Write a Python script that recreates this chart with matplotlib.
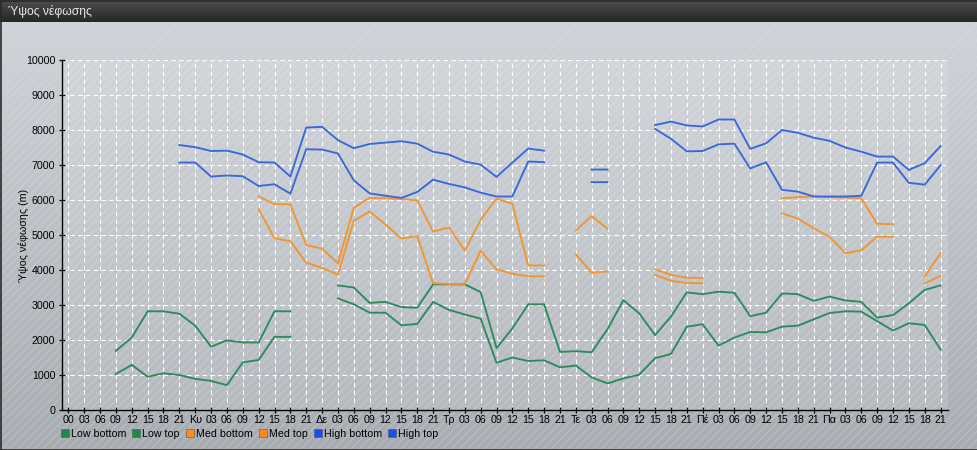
import matplotlib
matplotlib.use("Agg")
import matplotlib.pyplot as plt
import numpy as np
from matplotlib.colors import LinearSegmentedColormap
from matplotlib.lines import Line2D
from matplotlib.patches import Rectangle

plt.rcParams['font.family'] = ['Liberation Sans', 'DejaVu Sans']
plt.rcParams['hatch.linewidth'] = 1.1

nan = np.nan

# x categories: 7 days x 8 three-hour steps
tick_labels = ['00', '03', '06', '09', '12', '15', '18', '21',
               'Κυ', '03', '06', '09', '12', '15', '18', '21',
               'Δε', '03', '06', '09', '12', '15', '18', '21',
               'Τρ', '03', '06', '09', '12', '15', '18', '21',
               'Τε', '03', '06', '09', '12', '15', '18', '21',
               'Πέ', '03', '06', '09', '12', '15', '18', '21',
               'Πα', '03', '06', '09', '12', '15', '18', '21']

low_bottom = [nan, nan, nan, 1030, 1290, 950, 1050, 1000, 890, 830, 710, 1360, 1430, 2090, 2090,
              nan, nan, 3190, 3020, 2780, 2780, 2420, 2460, 3090, 2860, 2730, 2610, 1350, 1500,
              1400, 1420, 1220, 1270, 930, 760, 900, 1010, 1480, 1600, 2380, 2450, 1840, 2070,
              2230, 2220, 2380, 2410, 2590, 2770, 2820, 2810, 2540, 2270, 2480, 2430, 1730]
low_top = [nan, nan, nan, 1690, 2070, 2820, 2820, 2750, 2410, 1810, 1990, 1930, 1930, 2820, 2820,
           nan, nan, 3560, 3500, 3060, 3090, 2940, 2920, 3590, 3590, 3590, 3370, 1770, 2330,
           3020, 3020, 1660, 1680, 1650, 2310, 3140, 2760, 2140, 2670, 3360, 3310, 3380, 3350,
           2680, 2780, 3330, 3310, 3120, 3240, 3130, 3090, 2640, 2710, 3050, 3430, 3560]
med_bottom = [nan] * 12 + [5730, 4910, 4820, 4210, 4060, 3870, 5410, 5670, 5300, 4900, 4970,
                           3620, 3600, 3600, 4550, 4020, 3890, 3820, 3820, nan, 4450, 3920,
                           3960, nan, nan, 3860, 3690, 3630, 3620, nan, nan, nan, nan, 5620,
                           5470, 5190, 4950, 4480, 4560, 4950, 4950, nan, 3620, 3830]
med_top = [nan] * 12 + [6100, 5880, 5880, 4710, 4610, 4190, 5780, 6060, 6050, 6030, 5990,
                        5100, 5210, 4560, 5430, 6040, 5890, 4130, 4130, nan, 5130, 5540,
                        5180, nan, nan, 4020, 3860, 3780, 3770, nan, nan, nan, nan, 6050,
                        6080, 6100, 6080, 6070, 6050, 5320, 5310, nan, 3810, 4480]
high_bottom = [nan] * 7 + [7070, 7070, 6670, 6700, 6680, 6400, 6450, 6180, 7450, 7440, 7330,
                           6560, 6190, 6120, 6060, 6230, 6580, 6460, 6360, 6210, 6100, 6100,
                           7100, 7080, nan, nan, 6510, 6510, nan, nan, 8030, 7750, 7390, 7400,
                           7590, 7610, 6900, 7080, 6290, 6240, 6100, 6100, 6100, 6120, 7070,
                           7070, 6490, 6440, 6990]
high_top = [nan] * 7 + [7570, 7510, 7400, 7410, 7300, 7080, 7070, 6670, 8070, 8090, 7710,
                        7480, 7600, 7640, 7680, 7610, 7380, 7300, 7100, 7010, 6660, 7070,
                        7470, 7410, nan, nan, 6870, 6870, nan, nan, 8140, 8240, 8130, 8100,
                        8300, 8300, 7460, 7620, 8000, 7920, 7780, 7690, 7500, 7380, 7240,
                        7240, 6860, 7050, 7540]

series_names = ['Low bottom', 'Low top', 'Med bottom', 'Med top', 'High bottom', 'High top']
series_values = [low_bottom, low_top, med_bottom, med_top, high_bottom, high_top]
green, orange, blue = '#2b8a5e', '#f0952f', '#3a68d8'
series_colors = [green, green, orange, orange, blue, blue]
legend_colors = ['#1e8a4a', '#1e8a4a', '#ff8c1a', '#ff8c1a', '#1a4ee6', '#1a4ee6']

W, H = 978, 450
fig = plt.figure(figsize=(W / 100, H / 100), dpi=100)

# background: gradient, hatch, title bar
bg = fig.add_axes([0, 0, 1, 1], zorder=-10)
bg.set_xlim(0, W)
bg.set_ylim(H, 0)
bg.axis('off')
body_cmap = LinearSegmentedColormap.from_list('body', ['#d0d3d7', '#a8acb0'])
bg.imshow(np.linspace(0, 1, 256).reshape(-1, 1), cmap=body_cmap, aspect='auto',
          extent=(0, W, H, 22), zorder=0)
bg.add_patch(Rectangle((0, 22), W, H - 22, fill=False, hatch='////',
                       edgecolor=(0.85, 0.9, 1.0, 0.24), linewidth=0, zorder=1))
title_cmap = LinearSegmentedColormap.from_list('title', ['#4e4e4e', '#262626'])
bg.imshow(np.linspace(0, 1, 64).reshape(-1, 1), cmap=title_cmap, aspect='auto',
          extent=(0, W, 22, 0), zorder=2)
bg.add_patch(Rectangle((0.5, 0.5), W - 1, H - 1, fill=False, edgecolor='#2a2a2a',
                       linewidth=1.2, zorder=3))
bg.text(8, 12, 'Ύψος νέφωσης', color='#e8e8e8', fontsize=8.7, va='center', ha='left')

# plot area
ax = fig.add_axes([62 / W, 40 / H, 886 / W, 350 / H])
ax.set_facecolor((1, 1, 1, 0.13))
x = np.arange(len(tick_labels))
for vals, col in zip(series_values, series_colors):
    ax.plot(x, vals, color=col, linewidth=1.35)

ax.set_xlim(-0.4, 55.47)
ax.set_ylim(0, 10000)
ax.set_xticks(x)
ax.set_xticklabels(tick_labels)
ax.set_yticks(np.arange(0, 10001, 1000))
ax.tick_params(axis='both', direction='inout', length=4.5, width=0.9, labelsize=7.7,
               colors='black')
ax.tick_params(axis='x', pad=1.5)
ax.tick_params(axis='y', pad=2.5)
for s in ['top', 'right']:
    ax.spines[s].set_visible(False)
for s in ['left', 'bottom']:
    ax.spines[s].set_color('black')
    ax.spines[s].set_linewidth(1)
ax.grid(True, color=(1, 1, 1, 0.7), linestyle=(0, (4, 3)), linewidth=0.8)
ax.set_axisbelow(True)
ax.set_ylabel('Ύψος νέφωσης (m)', fontsize=7.7, labelpad=-2)

handles = [Line2D([], [], linestyle='none', marker='s', markersize=5.5, color=c,
                  markeredgecolor='#555555', markeredgewidth=0.4) for c in legend_colors]
fig.legend(handles, series_names, loc='lower left', bbox_to_anchor=(0.055, 0.008),
           ncol=6, frameon=False, fontsize=7.7, handlelength=0.7, handletextpad=0.2,
           columnspacing=0.6, borderaxespad=0.3)

fig.savefig('out.png', dpi=100)
